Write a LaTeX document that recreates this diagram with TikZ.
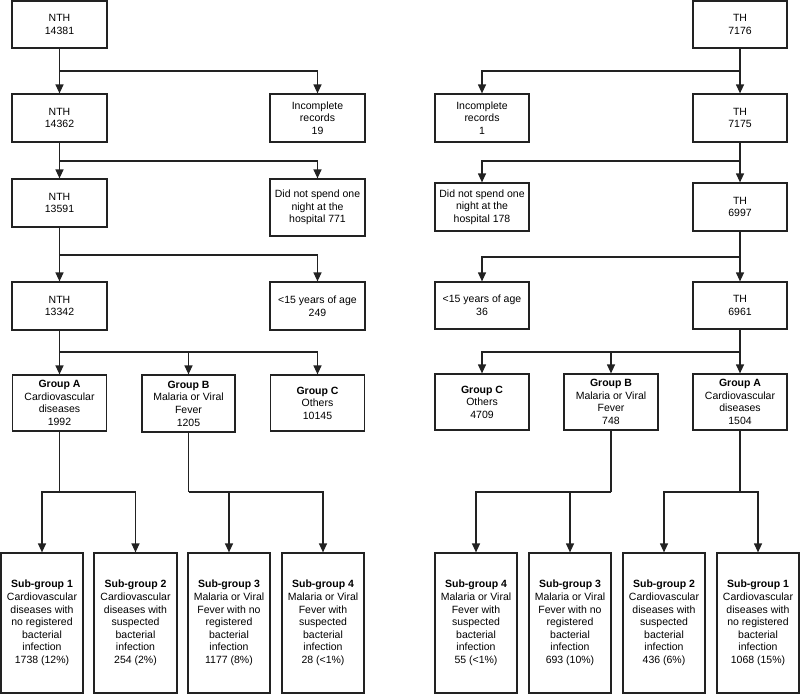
\documentclass[tikz,border=0pt]{standalone}
\usepackage{fontspec}
\setmainfont{Liberation Sans}
\usetikzlibrary{arrows.meta}
\definecolor{ln}{HTML}{222222}
\begin{document}
\begin{tikzpicture}[x=1pt,y=-1pt,
 box/.style={draw=ln, line width=1.2pt, inner sep=0pt, align=center, font=\fontsize{10.5}{12.6}\selectfont, text=black},
 sz/.style 2 args={minimum width=#1pt, minimum height=#2pt},
 arr/.style={draw=ln, line width=1.2pt, -{Triangle[length=9pt,width=8pt]}},
 lnk/.style={draw=ln, line width=1.2pt}]
\useasboundingbox (0,0) rectangle (800,696);
% ---------- left column ----------
\node[box, sz={95}{47}] (n1) at (59.5,24.5) {NTH\\14381};
\node[box, sz={95}{48}] (n2) at (59.5,118) {NTH\\14362};
\node[box, sz={95}{48}] (inc1) at (317.5,118) {Incomplete\\records\\19};
\node[box, sz={95}{48}] (n3) at (59.5,203) {NTH\\13591};
\node[box, sz={95}{57}] (dns1) at (317.5,207.5) {Did not spend one\\night at the\\hospital 771};
\node[box, sz={95}{48}] (n4) at (59.5,306) {NTH\\13342};
\node[box, sz={95}{48}] (age1) at (317.5,306) {<15 years of age\\249};
\node[box, sz={94}{56}] (gA1) at (59.5,403) {\textbf{Group A}\\Cardiovascular\\diseases\\1992};
\node[box, sz={93}{57}] (gB1) at (188.5,403.5) {\textbf{Group B}\\Malaria or Viral\\Fever\\1205};
\node[box, sz={94}{56}] (gC1) at (317.5,403) {\textbf{Group C}\\Others\\10145};
\node[box, sz={82}{140}] (s1) at (42,623) {\textbf{Sub-group 1}\\Cardiovascular\\diseases with\\no registered\\bacterial\\infection\\1738 (12\%)};
\node[box, sz={83}{140}] (s2) at (135.5,623) {\textbf{Sub-group 2}\\Cardiovascular\\diseases with\\suspected\\bacterial\\infection\\254 (2\%)};
\node[box, sz={82}{140}] (s3) at (229,623) {\textbf{Sub-group 3}\\Malaria or Viral\\Fever with no\\registered\\bacterial\\infection\\1177 (8\%)};
\node[box, sz={82}{140}] (s4) at (323,623) {\textbf{Sub-group 4}\\Malaria or Viral\\Fever with\\suspected\\bacterial\\infection\\28 (<1\%)};
% ---------- right column ----------
\node[box, sz={94}{47}] (t1) at (740,24.5) {TH\\7176};
\node[box, sz={94}{48}] (inc2) at (482,118) {Incomplete\\records\\1};
\node[box, sz={94}{48}] (t2) at (740,118) {TH\\7175};
\node[box, sz={94}{48}] (dns2) at (482,207) {Did not spend one\\night at the\\hospital 178};
\node[box, sz={94}{48}] (t3) at (740,207) {TH\\6997};
\node[box, sz={94}{47}] (age2) at (482,305.5) {<15 years of age\\36};
\node[box, sz={94}{47}] (t4) at (740,305.5) {TH\\6961};
\node[box, sz={94}{56}] (gC2) at (482,402) {\textbf{Group C}\\Others\\4709};
\node[box, sz={94}{56}] (gB2) at (611,402) {\textbf{Group B}\\Malaria or Viral\\Fever\\748};
\node[box, sz={94}{56}] (gA2) at (740,402) {\textbf{Group A}\\Cardiovascular\\diseases\\1504};
\node[box, sz={82}{140}] (r4) at (476,623) {\textbf{Sub-group 4}\\Malaria or Viral\\Fever with\\suspected\\bacterial\\infection\\55 (<1\%)};
\node[box, sz={82}{140}] (r3) at (570,623) {\textbf{Sub-group 3}\\Malaria or Viral\\Fever with no\\registered\\bacterial\\infection\\693 (10\%)};
\node[box, sz={82}{140}] (r2) at (664,623) {\textbf{Sub-group 2}\\Cardiovascular\\diseases with\\suspected\\bacterial\\infection\\436 (6\%)};
\node[box, sz={82}{140}] (r1) at (758,623) {\textbf{Sub-group 1}\\Cardiovascular\\diseases with\\no registered\\bacterial\\infection\\1068 (15\%)};
% ---------- branch points ----------
\coordinate (a1) at (59.5,71);
\coordinate (a2) at (59.5,161);
\coordinate (a3) at (59.5,255);
\coordinate (a4) at (59.5,352);
\coordinate (a5) at (59.5,492);
\coordinate (a6) at (188.5,492);
\coordinate (b1) at (740,71);
\coordinate (b2) at (740,161);
\coordinate (b3) at (740,257);
\coordinate (b4) at (740,352);
\coordinate (b5) at (611,492);
\coordinate (b6) at (740,492);
% ---------- left connectors ----------
\draw[arr] (n1.south) -- (n2.north);
\draw[arr] (a1) -| (inc1.north);
\draw[arr] (n2.south) -- (n3.north);
\draw[arr] (a2) -| (dns1.north);
\draw[arr] (n3.south) -- (n4.north);
\draw[arr] (a3) -| (age1.north);
\draw[arr] (n4.south) -- (gA1.north);
\draw[arr] (a4) -| (gB1.north);
\draw[arr] (a4) -| (gC1.north);
\draw[lnk] (gA1.south) -- (a5);
\draw[arr] (a5) -| (s1.north);
\draw[arr] (a5) -| (s2.north);
\draw[lnk] (gB1.south) -- (a6);
\draw[arr] (a6) -| (s3.north);
\draw[arr] (a6) -| (s4.north);
% ---------- right connectors ----------
\draw[arr] (t1.south) -- (t2.north);
\draw[arr] (b1) -| (inc2.north);
\draw[arr] (t2.south) -- (t3.north);
\draw[arr] (b2) -| (dns2.north);
\draw[arr] (t3.south) -- (t4.north);
\draw[arr] (b3) -| (age2.north);
\draw[arr] (t4.south) -- (gA2.north);
\draw[arr] (b4) -| (gB2.north);
\draw[arr] (b4) -| (gC2.north);
\draw[lnk] (gB2.south) -- (b5);
\draw[arr] (b5) -| (r4.north);
\draw[arr] (b5) -| (r3.north);
\draw[lnk] (gA2.south) -- (b6);
\draw[arr] (b6) -| (r2.north);
\draw[arr] (b6) -| (r1.north);
\end{tikzpicture}
\end{document}
